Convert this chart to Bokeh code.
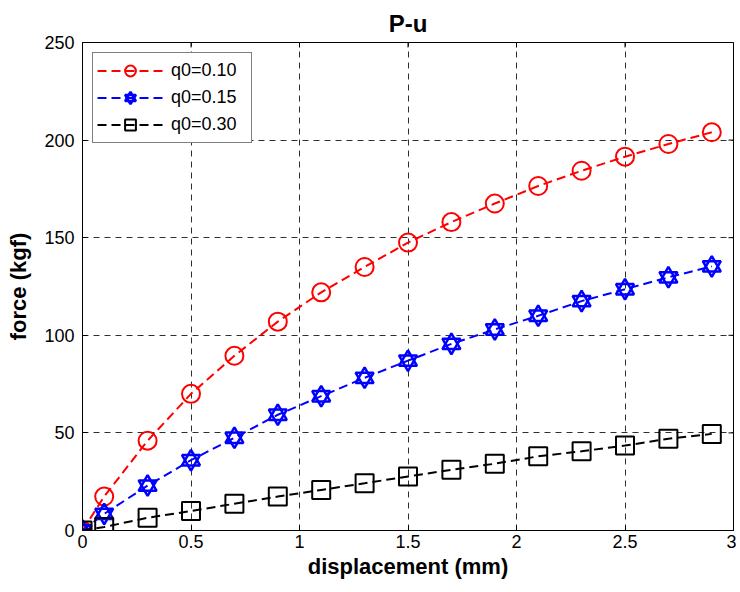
import math
from bokeh.plotting import figure
from bokeh.models import Range1d, Legend, LegendItem, FixedTicker
from bokeh.embed import file_html
from bokeh.resources import INLINE

# ---- data ----
disp = [0, 0.1, 0.3, 0.5, 0.7, 0.9, 1.1, 1.3, 1.5, 1.7, 1.9, 2.1, 2.3, 2.5, 2.7, 2.9]
force_q010 = [0, 17.4, 46, 70, 89.5, 107, 122, 135, 147.5, 158, 167.5, 176.5, 184.3, 191.5, 198, 204]
force_q015 = [0, 8.5, 23, 36, 47.5, 59.3, 68.8, 78.2, 87, 95.6, 103, 110, 117.5, 123.6, 129.7, 135.3]
force_q030 = [0, 1.8, 6.5, 10, 13.7, 17.4, 20.8, 24.2, 27.7, 31.1, 34.2, 38, 40.6, 43.5, 47, 49.5]
series_labels = ["q0=0.10", "q0=0.15", "q0=0.30"]
x_ticks = [0, 0.5, 1, 1.5, 2, 2.5, 3]
x_tick_labels = ["0", "0.5", "1", "1.5", "2", "2.5", "3"]
y_ticks = [0, 50, 100, 150, 200, 250]
y_tick_labels = ["0", "50", "100", "150", "200", "250"]

FONT = "Liberation Sans"
x_max = x_ticks[-1]
y_max = y_ticks[-1]

p = figure(width=736, height=584, output_backend="svg", toolbar_location=None,
           x_range=Range1d(0, x_max), y_range=Range1d(0, y_max),
           min_border_left=82, min_border_right=3, min_border_top=42, min_border_bottom=54,
           title="P-u")
p.background_fill_color = "white"
p.border_fill_color = "white"
p.outline_line_color = "black"
p.outline_line_width = 1

p.title.align = "center"
p.title.text_font = FONT
p.title.text_font_size = "24px"
p.title.text_font_style = "bold"
p.title.text_color = "black"
p.title.standoff = 12

p.xaxis.ticker = FixedTicker(ticks=x_ticks)
p.yaxis.ticker = FixedTicker(ticks=y_ticks)
p.xaxis.major_label_overrides = dict(zip(x_ticks, x_tick_labels))
p.yaxis.major_label_overrides = dict(zip(y_ticks, y_tick_labels))
p.xaxis.axis_label = "displacement (mm)"
p.yaxis.axis_label = "force (kgf)"
for ax in (p.xaxis[0], p.yaxis[0]):
    ax.axis_label_text_font = FONT
    ax.axis_label_text_font_size = "22px"
    ax.axis_label_text_font_style = "bold"
    ax.axis_label_text_color = "black"
    ax.major_label_text_font = FONT
    ax.major_label_text_font_size = "18px"
    ax.major_label_text_color = "black"
    ax.major_tick_in = 5
    ax.major_tick_out = 0
    ax.minor_tick_line_color = None
    ax.axis_line_color = "black"
    ax.major_tick_line_color = "black"
p.xaxis.major_label_standoff = 4
p.yaxis.major_label_standoff = 8
p.xaxis.axis_label_standoff = 3
p.yaxis.axis_label_standoff = 10

p.xgrid.ticker = FixedTicker(ticks=x_ticks)
p.ygrid.ticker = FixedTicker(ticks=y_ticks)
for g in (p.xgrid[0], p.ygrid[0]):
    g.grid_line_color = "#303030"
    g.grid_line_dash = "6 5"
    g.grid_line_width = 1

# inward box ticks on the right and top edges
p.scatter([x_max] * len(y_ticks), y_ticks, marker="dash", size=10, line_color="black", line_width=1)
p.scatter(x_ticks, [y_max] * len(x_ticks), marker="dash", size=10, angle=math.pi / 2,
          line_color="black", line_width=1)

dash = "9 5"
items = []

l1 = p.line(disp, force_q010, line_color="#ff0000", line_width=2, line_dash=dash)
m1 = p.scatter(disp, force_q010, marker="circle", size=18, line_color="#ff0000",
               fill_color=None, line_width=2)
items.append(LegendItem(label=series_labels[0], renderers=[l1, m1]))

l2 = p.line(disp, force_q015, line_color="#0000ff", line_width=2, line_dash=dash)
m2a = p.scatter(disp, force_q015, marker="triangle", size=18, line_color="#0000ff",
                fill_color=None, line_width=2.5)
m2b = p.scatter(disp, force_q015, marker="inverted_triangle", size=18, line_color="#0000ff",
                fill_color=None, line_width=2.5)
items.append(LegendItem(label=series_labels[1], renderers=[l2, m2a, m2b]))

l3 = p.line(disp, force_q030, line_color="black", line_width=2, line_dash=dash)
m3 = p.scatter(disp, force_q030, marker="square", size=18, line_color="black",
               fill_color=None, line_width=2)
items.append(LegendItem(label=series_labels[2], renderers=[l3, m3]))

legend = Legend(items=items, location="top_left", margin=10, padding=4, spacing=0,
                glyph_width=66, glyph_height=27, label_height=27, label_width=76,
                label_standoff=8,
                label_text_font=FONT, label_text_font_size="18px", label_text_color="black",
                border_line_color="black", border_line_width=1,
                background_fill_color="white", background_fill_alpha=1.0)
p.add_layout(legend, "center")

open("out.html", "w").write(file_html(p, INLINE))
